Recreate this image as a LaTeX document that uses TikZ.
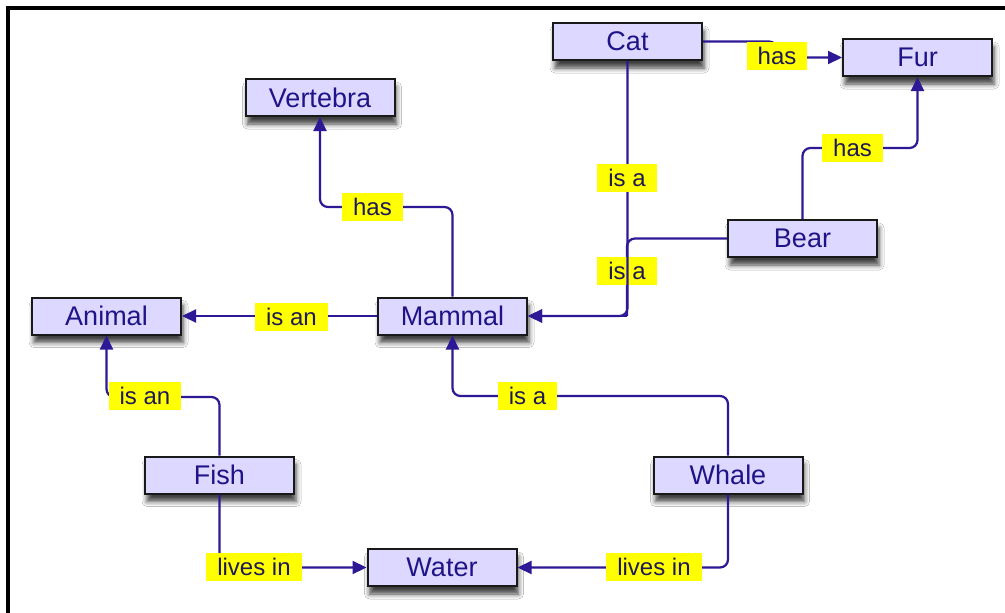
\documentclass[tikz,border=0pt]{standalone}
\usepackage{fontspec}
\setmainfont{Liberation Sans}
\usetikzlibrary{arrows.meta,shadows.blur}
\definecolor{boxfill}{RGB}{220,216,255}
\definecolor{boxtext}{RGB}{30,20,135}
\definecolor{edgecol}{RGB}{45,25,150}
\definecolor{lbltext}{RGB}{30,25,85}
\definecolor{lblfill}{RGB}{255,255,0}
\begin{document}
\begin{tikzpicture}[x=1pt,y=-1pt,
  concept/.style={draw=black!90, line width=2pt, fill=boxfill, text=boxtext,
    minimum width=149pt, minimum height=37pt, inner sep=0pt,
    font=\fontsize{27}{27}\selectfont,
    blur shadow={shadow xshift=2pt, shadow yshift=-8pt, shadow blur radius=5pt, shadow opacity=75}},
  rel/.style={fill=lblfill, text=lbltext, inner xsep=11pt, inner ysep=0pt,
    minimum height=28pt, font=\fontsize{24}{24}\selectfont},
  link/.style={draw=edgecol, line width=2.2pt, rounded corners=8pt},
  arr/.style={-{Triangle[length=14pt,width=13pt]}}
]
\useasboundingbox (0,0) rectangle (1005,613);
\fill[white] (0,0) rectangle (1005,613);
\draw[line width=4pt, line join=miter] (8,613) -- (8,7.5) -- (1005,7.5);

% concepts
\node[concept] (cat) at (627.5,41.5) {Cat};
\node[concept] (fur) at (917.5,57.5) {Fur};
\node[concept] (vert) at (320,97.5) {Vertebra};
\node[concept] (bear) at (802.5,238.5) {Bear};
\node[concept] (animal) at (106.5,316) {Animal};
\node[concept] (mammal) at (452.5,316) {Mammal};
\node[concept] (fish) at (219.5,475) {Fish};
\node[concept] (whale) at (728,475) {Whale};
\node[concept] (water) at (442,567.5) {Water};

% bend points
\coordinate (catfur) at (777,41.5);
\coordinate (bearfur) at (852,148);
\coordinate (bearbend) at (627,316);
\coordinate (mamvert) at (372,207);
\coordinate (fishanim) at (145,397);
\coordinate (whalemam) at (527,396);

% Cat has Fur
\draw[link,arr] (cat.east) -- (catfur) |- (fur.west);
\node[rel] (l1) at (777,56) {has};

% Bear has Fur
\draw[link,arr] (bear.north) |- (bearfur) -| (fur.south);
\node[rel] (l2) at (852.5,148) {has};

% Bear is a Mammal
\draw[link] (bear.west) -| (bearbend);
\draw[link,arr] (bearbend) -- (mammal.east);
\node[rel] (l3) at (627,271) {is a};

% Cat is a Mammal
\draw[link,arr] (cat.south) |- (mammal.east);
\node[rel] (l4) at (627,178) {is a};

% Mammal has Vertebra
\draw[link,arr] (mammal.north) |- (mamvert) -| (vert.south);
\node[rel] (l5) at (372.5,207) {has};

% Mammal is an Animal
\draw[link,arr] (mammal.west) -- (animal.east);
\node[rel] (l6) at (291.5,316.5) {is an};

% Fish is an Animal
\draw[link,arr] (fish.north) |- (fishanim) -| (animal.south);
\node[rel] (l7) at (145,396) {is an};

% Whale is a Mammal
\draw[link,arr] (whale.north) |- (whalemam) -| (mammal.south);
\node[rel] (l8) at (527.5,396) {is a};

% Whale lives in Water
\draw[link,arr] (whale.south) |- (water.east);
\node[rel] (l9) at (654,567) {lives in};

% Fish lives in Water
\draw[link,arr] (fish.south) |- (water.west);
\node[rel] (l10) at (254,567) {lives in};
\end{tikzpicture}
\end{document}
